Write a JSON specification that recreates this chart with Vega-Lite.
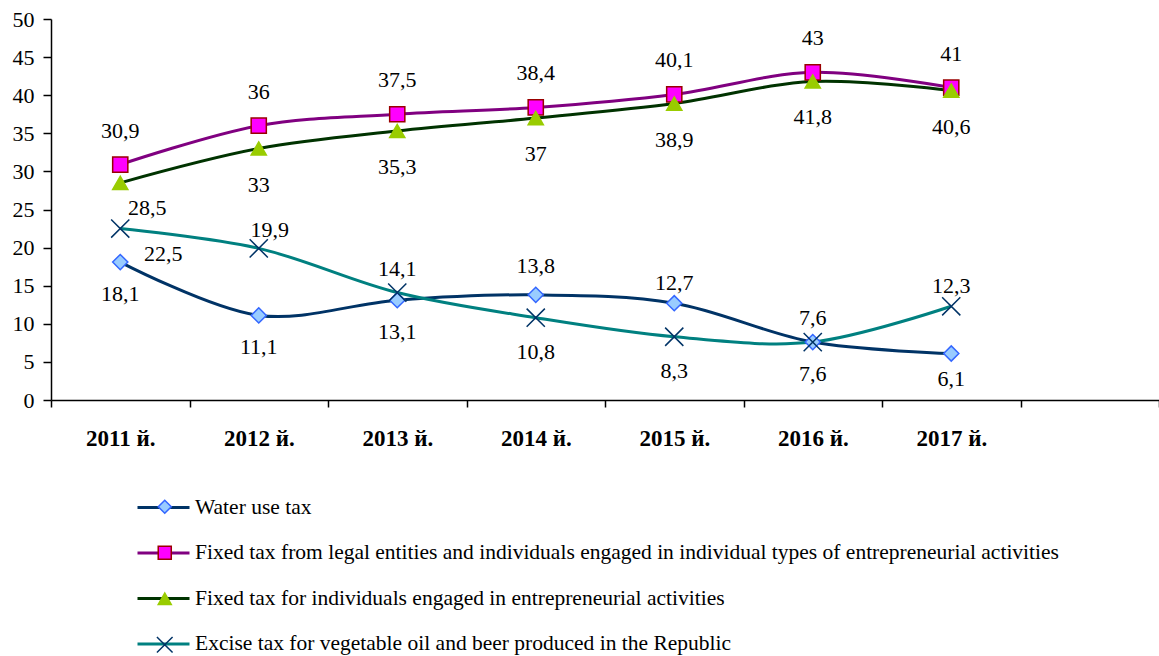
{
  "$schema": "https://vega.github.io/schema/vega-lite/v6.json",
  "width": 1108,
  "height": 381,
  "autosize": {"type": "none"},
  "padding": {"left": 51, "top": 19, "right": 0, "bottom": 256},
  "background": "white",
  "config": {
    "locale": {"number": {"decimal": ",", "thousands": " ", "grouping": [3], "currency": ["", ""]}},
    "font": "Liberation Serif",
    "view": {"stroke": null},
    "axis": {"grid": false, "domainColor": "black", "tickColor": "black", "labelColor": "black", "labelFont": "Liberation Serif", "title": null}
  },
  "data": {
    "values": [
      {"series": "Water use tax", "year": "2011 й.", "value": 18.1},
      {"series": "Water use tax", "year": "2012 й.", "value": 11.1},
      {"series": "Water use tax", "year": "2013 й.", "value": 13.1},
      {"series": "Water use tax", "year": "2014 й.", "value": 13.8},
      {"series": "Water use tax", "year": "2015 й.", "value": 12.7},
      {"series": "Water use tax", "year": "2016 й.", "value": 7.6},
      {"series": "Water use tax", "year": "2017 й.", "value": 6.1},
      {"series": "Fixed tax from legal entities and individuals engaged in individual types of entrepreneurial activities", "year": "2011 й.", "value": 30.9},
      {"series": "Fixed tax from legal entities and individuals engaged in individual types of entrepreneurial activities", "year": "2012 й.", "value": 36},
      {"series": "Fixed tax from legal entities and individuals engaged in individual types of entrepreneurial activities", "year": "2013 й.", "value": 37.5},
      {"series": "Fixed tax from legal entities and individuals engaged in individual types of entrepreneurial activities", "year": "2014 й.", "value": 38.4},
      {"series": "Fixed tax from legal entities and individuals engaged in individual types of entrepreneurial activities", "year": "2015 й.", "value": 40.1},
      {"series": "Fixed tax from legal entities and individuals engaged in individual types of entrepreneurial activities", "year": "2016 й.", "value": 43},
      {"series": "Fixed tax from legal entities and individuals engaged in individual types of entrepreneurial activities", "year": "2017 й.", "value": 41},
      {"series": "Fixed tax for individuals engaged in entrepreneurial activities", "year": "2011 й.", "value": 28.5},
      {"series": "Fixed tax for individuals engaged in entrepreneurial activities", "year": "2012 й.", "value": 33},
      {"series": "Fixed tax for individuals engaged in entrepreneurial activities", "year": "2013 й.", "value": 35.3},
      {"series": "Fixed tax for individuals engaged in entrepreneurial activities", "year": "2014 й.", "value": 37},
      {"series": "Fixed tax for individuals engaged in entrepreneurial activities", "year": "2015 й.", "value": 38.9},
      {"series": "Fixed tax for individuals engaged in entrepreneurial activities", "year": "2016 й.", "value": 41.8},
      {"series": "Fixed tax for individuals engaged in entrepreneurial activities", "year": "2017 й.", "value": 40.6},
      {"series": "Excise tax for vegetable oil and beer produced in the Republic", "year": "2011 й.", "value": 22.5},
      {"series": "Excise tax for vegetable oil and beer produced in the Republic", "year": "2012 й.", "value": 19.9},
      {"series": "Excise tax for vegetable oil and beer produced in the Republic", "year": "2013 й.", "value": 14.1},
      {"series": "Excise tax for vegetable oil and beer produced in the Republic", "year": "2014 й.", "value": 10.8},
      {"series": "Excise tax for vegetable oil and beer produced in the Republic", "year": "2015 й.", "value": 8.3},
      {"series": "Excise tax for vegetable oil and beer produced in the Republic", "year": "2016 й.", "value": 7.6},
      {"series": "Excise tax for vegetable oil and beer produced in the Republic", "year": "2017 й.", "value": 12.3}
    ]
  },
  "encoding": {
    "x": {
      "field": "year", "type": "nominal",
      "scale": {"type": "band", "domain": ["2011 й.", "2012 й.", "2013 й.", "2014 й.", "2015 й.", "2016 й.", "2017 й.", "-"], "paddingInner": 0, "paddingOuter": 0},
      "axis": {"labelAngle": 0, "tickBand": "extent", "labelExpr": "datum.value === '-' ? '' : datum.value", "labelFont": "Liberation Serif", "labelFontSize": 23, "labelFontWeight": "bold", "tickSize": 7, "tickWidth": 1.5, "domainWidth": 1.5, "labelPadding": 20, "labelBaseline": "top"}
    },
    "y": {
      "field": "value", "type": "quantitative",
      "scale": {"domain": [0, 50], "nice": false, "zero": true},
      "axis": {"values": [0, 5, 10, 15, 20, 25, 30, 35, 40, 45, 50], "labelFont": "Liberation Serif", "labelFontSize": 22, "tickSize": 8, "tickWidth": 1.5, "domainWidth": 1.5, "labelPadding": 9}
    }
  },
  "layer": [
    {
      "mark": {"type": "line", "strokeWidth": 3, "interpolate": "catmull-rom"},
      "encoding": {
        "color": {
          "field": "series", "type": "nominal",
          "sort": ["Water use tax", "Fixed tax from legal entities and individuals engaged in individual types of entrepreneurial activities", "Fixed tax for individuals engaged in entrepreneurial activities", "Excise tax for vegetable oil and beer produced in the Republic"],
          "scale": {"range": ["#003366", "#800080", "#003300", "#008080"]},
          "legend": {"orient": "none", "legendX": 85, "legendY": 461, "direction": "vertical", "title": null, "symbolType": "stroke", "symbolSize": 2704, "symbolStrokeWidth": 3, "labelFont": "Liberation Serif", "labelFontSize": 21.5, "labelColor": "black", "labelLimit": 1100, "rowPadding": 7.5, "labelOffset": 4, "padding": 0}
        }
      }
    },
    {
      "mark": {"type": "point", "filled": true, "size": 230, "strokeWidth": 1.5, "opacity": 1},
      "encoding": {
        "shape": {
          "field": "series", "type": "nominal",
          "scale": {"domain": ["Water use tax", "Fixed tax from legal entities and individuals engaged in individual types of entrepreneurial activities", "Fixed tax for individuals engaged in entrepreneurial activities", "Excise tax for vegetable oil and beer produced in the Republic"], "range": ["diamond", "square", "triangle-up", "M-1.2,-1.2L1.2,1.2M-1.2,1.2L1.2,-1.2"]},
          "legend": {"orient": "none", "legendX": 103, "legendY": 477, "direction": "vertical", "title": null, "symbolSize": 170, "symbolStrokeWidth": 1.5, "labelFont": "Liberation Serif", "labelFontSize": 21.5, "labelExpr": "' '", "labelLimit": 1100, "rowPadding": 23, "labelOffset": 6, "padding": 0}
        },
        "fill": {
          "field": "series", "type": "nominal",
          "scale": {"domain": ["Water use tax", "Fixed tax from legal entities and individuals engaged in individual types of entrepreneurial activities", "Fixed tax for individuals engaged in entrepreneurial activities", "Excise tax for vegetable oil and beer produced in the Republic"], "range": ["#99CCFF", "#FF00FF", "#99CC00", "transparent"]},
          "legend": {"orient": "none", "legendX": 103, "legendY": 477, "direction": "vertical", "title": null, "symbolSize": 170, "symbolStrokeWidth": 1.5, "labelFont": "Liberation Serif", "labelFontSize": 21.5, "labelExpr": "' '", "labelLimit": 1100, "rowPadding": 23, "labelOffset": 6, "padding": 0}
        },
        "stroke": {
          "field": "series", "type": "nominal",
          "scale": {"domain": ["Water use tax", "Fixed tax from legal entities and individuals engaged in individual types of entrepreneurial activities", "Fixed tax for individuals engaged in entrepreneurial activities", "Excise tax for vegetable oil and beer produced in the Republic"], "range": ["#3366FF", "#990000", "#99CC00", "#003366"]},
          "legend": {"orient": "none", "legendX": 103, "legendY": 477, "direction": "vertical", "title": null, "symbolSize": 170, "symbolStrokeWidth": 1.5, "labelFont": "Liberation Serif", "labelFontSize": 21.5, "labelExpr": "' '", "labelLimit": 1100, "rowPadding": 23, "labelOffset": 6, "padding": 0}
        }
      }
    },
    {
      "transform": [{"filter": "datum.series === 'Fixed tax from legal entities and individuals engaged in individual types of entrepreneurial activities'"}],
      "mark": {"type": "text", "dy": -34, "fontSize": 22, "font": "Liberation Serif", "baseline": "middle", "color": "black"},
      "encoding": {"text": {"field": "value", "type": "quantitative", "format": ".3~r"}}
    },
    {
      "transform": [{"filter": "datum.series === 'Fixed tax for individuals engaged in entrepreneurial activities' && datum.year !== '2011 й.'"}],
      "mark": {"type": "text", "dy": 36, "fontSize": 22, "font": "Liberation Serif", "baseline": "middle", "color": "black"},
      "encoding": {"text": {"field": "value", "type": "quantitative", "format": ".3~r"}}
    },
    {
      "transform": [{"filter": "datum.series === 'Water use tax' && indexof(['2011 й.', '2012 й.', '2013 й.', '2016 й.'], datum.year) >= 0"}],
      "mark": {"type": "text", "dy": 32, "fontSize": 22, "font": "Liberation Serif", "baseline": "middle", "color": "black"},
      "encoding": {"text": {"field": "value", "type": "quantitative", "format": ".3~r"}}
    },
    {
      "transform": [{"filter": "datum.series === 'Water use tax' && datum.year === '2017 й.'"}],
      "mark": {"type": "text", "dy": 25, "fontSize": 22, "font": "Liberation Serif", "baseline": "middle", "color": "black"},
      "encoding": {"text": {"field": "value", "type": "quantitative", "format": ".3~r"}}
    },
    {
      "transform": [{"filter": "datum.series === 'Excise tax for vegetable oil and beer produced in the Republic' && indexof(['2014 й.', '2015 й.'], datum.year) >= 0"}],
      "mark": {"type": "text", "dy": 34, "fontSize": 22, "font": "Liberation Serif", "baseline": "middle", "color": "black"},
      "encoding": {"text": {"field": "value", "type": "quantitative", "format": ".3~r"}}
    },
    {
      "transform": [{"filter": "datum.series === 'Excise tax for vegetable oil and beer produced in the Republic' && indexof(['2013 й.', '2016 й.'], datum.year) >= 0"}],
      "mark": {"type": "text", "dy": -24, "fontSize": 22, "font": "Liberation Serif", "baseline": "middle", "color": "black"},
      "encoding": {"text": {"field": "value", "type": "quantitative", "format": ".3~r"}}
    },
    {
      "transform": [{"filter": "(datum.series === 'Water use tax' && datum.year === '2015 й.') || (datum.series === 'Excise tax for vegetable oil and beer produced in the Republic' && datum.year === '2017 й.')"}],
      "mark": {"type": "text", "dy": -20, "fontSize": 22, "font": "Liberation Serif", "baseline": "middle", "color": "black"},
      "encoding": {"text": {"field": "value", "type": "quantitative", "format": ".3~r"}}
    },
    {
      "transform": [{"filter": "datum.series === 'Water use tax' && datum.year === '2014 й.'"}],
      "mark": {"type": "text", "dy": -29, "fontSize": 22, "font": "Liberation Serif", "baseline": "middle", "color": "black"},
      "encoding": {"text": {"field": "value", "type": "quantitative", "format": ".3~r"}}
    },
    {
      "transform": [{"filter": "datum.series === 'Fixed tax for individuals engaged in entrepreneurial activities' && datum.year === '2011 й.'"}],
      "mark": {"type": "text", "dx": 27, "dy": 25, "fontSize": 22, "font": "Liberation Serif", "baseline": "middle", "color": "black"},
      "encoding": {"text": {"field": "value", "type": "quantitative", "format": ".3~r"}}
    },
    {
      "transform": [{"filter": "datum.series === 'Excise tax for vegetable oil and beer produced in the Republic' && datum.year === '2011 й.'"}],
      "mark": {"type": "text", "dx": 43, "dy": 25, "fontSize": 22, "font": "Liberation Serif", "baseline": "middle", "color": "black"},
      "encoding": {"text": {"field": "value", "type": "quantitative", "format": ".3~r"}}
    },
    {
      "transform": [{"filter": "datum.series === 'Excise tax for vegetable oil and beer produced in the Republic' && datum.year === '2012 й.'"}],
      "mark": {"type": "text", "dx": 11, "dy": -18, "fontSize": 22, "font": "Liberation Serif", "baseline": "middle", "color": "black"},
      "encoding": {"text": {"field": "value", "type": "quantitative", "format": ".3~r"}}
    }
  ]
}
